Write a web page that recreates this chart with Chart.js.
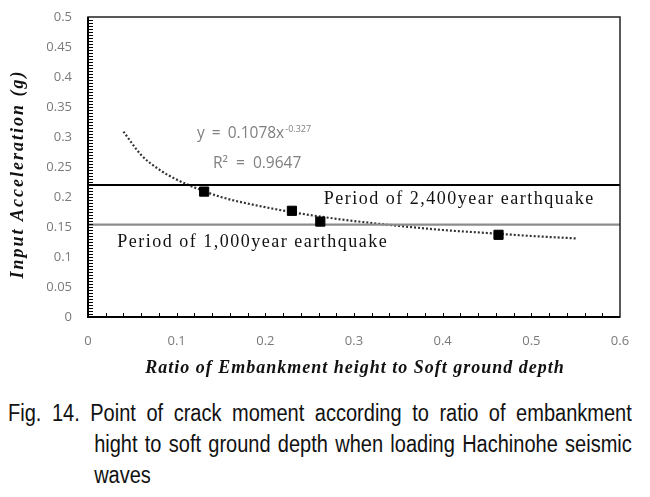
<!DOCTYPE html>
<html>
<head>
<meta charset="utf-8">
<script src="https://cdn.jsdelivr.net/npm/chart.js@4"></script>
<style>
  body{margin:0;background:#fff;}
  #wrap{position:relative;width:650px;height:497px;}
  #chart{position:absolute;left:0;top:0;}
  #caption{position:absolute;left:8px;top:398px;width:717px;transform:scaleX(0.87);transform-origin:0 0;
    font-family:"Liberation Sans",sans-serif;font-size:23px;line-height:31px;color:#111;}
  #caption div{text-align:justify;text-align-last:justify;white-space:nowrap;}
  #caption .ind{padding-left:99px;}
  #caption .last{text-align-last:left;}
</style>
</head>
<body>
<div id="wrap">
  <canvas id="chart" width="650" height="385"></canvas>
  <div id="caption">
    <div>Fig. 14. Point of crack moment according to ratio of embankment</div>
    <div class="ind">hight to soft ground depth when loading Hachinohe seismic</div>
    <div class="ind last">waves</div>
  </div>
</div>
<script>
// -------- data --------
const crackRatio = [0.131, 0.230, 0.262, 0.463];
const crackAccel = [0.209, 0.177, 0.159, 0.137];

// power trendline (dotted)
const trendRatio = [0.04, 0.06, 0.08, 0.10, 0.12, 0.15, 0.20, 0.25, 0.30, 0.35, 0.40, 0.45, 0.50, 0.55];
const trendAccel = [0.309, 0.270, 0.246, 0.229, 0.216, 0.200, 0.183, 0.170, 0.160, 0.152, 0.145, 0.140, 0.135, 0.131];

const levelNames = ['Period of 2,400year earthquake', 'Period of 1,000year earthquake'];
const levelAccel = [0.22, 0.154];
const levelSpan = [0, 0.6];

const xTickValues = [0, 0.1, 0.2, 0.3, 0.4, 0.5, 0.6];
const yTickValues = [0, 0.05, 0.1, 0.15, 0.2, 0.25, 0.3, 0.35, 0.4, 0.45, 0.5];

const TICK_GRAY = '#7a7a7a';

// --------- frame, inner ticks, titles, notes ---------
const decor = {
  id: 'decor',
  afterDraw(chart){
    const {ctx, chartArea:a, scales:{x, y}} = chart;
    ctx.save();
    // minor ticks inside the plot
    ctx.strokeStyle = '#000'; ctx.lineWidth = 1;
    ctx.beginPath();
    for(let i=1;i<30;i++){
      const px = Math.round(x.getPixelForValue(i*0.02)) + 0.5;
      ctx.moveTo(px, a.bottom); ctx.lineTo(px, a.bottom - 4);
    }
    for(let i=1;i<100;i++){
      const py = Math.round(y.getPixelForValue(i*0.005)) + 0.5;
      ctx.moveTo(a.left, py); ctx.lineTo(a.left + 5, py);
    }
    ctx.stroke();
    // frame
    ctx.lineWidth = 1.5; ctx.strokeStyle = '#222';
    ctx.strokeRect(a.left, a.top, a.right - a.left, a.bottom - a.top);
    ctx.lineWidth = 2; ctx.strokeStyle = '#000';
    ctx.beginPath();
    ctx.moveTo(a.left, a.top); ctx.lineTo(a.left, a.bottom); ctx.lineTo(a.right, a.bottom);
    ctx.stroke();

    // axis titles
    ctx.fillStyle = '#111';
    ctx.font = 'italic bold 18px "Liberation Serif", serif';
    ctx.textAlign = 'center'; ctx.textBaseline = 'middle';
    ctx.letterSpacing = '1px';
    ctx.fillText('Ratio of Embankment height to Soft ground depth', 355, 368);
    ctx.save();
    ctx.letterSpacing = '2px';
    ctx.translate(18, 174); ctx.rotate(-Math.PI/2);
    ctx.fillText('Input Acceleration (g)', 0, 0);
    ctx.restore();

    // level labels
    ctx.font = '18px "Liberation Serif", serif';
    ctx.textAlign = 'left';
    ctx.letterSpacing = '1.5px';
    ctx.fillText(levelNames[0], x.getPixelForValue(0.266), y.getPixelForValue(0.197));
    ctx.fillText(levelNames[1], x.getPixelForValue(0.033), y.getPixelForValue(0.124));

    // trendline equation
    ctx.letterSpacing = '0px';
    ctx.wordSpacing = '3px';
    ctx.fillStyle = '#808080';
    ctx.font = '15.5px "Open Sans", sans-serif';
    const ex = x.getPixelForValue(0.123), ey = y.getPixelForValue(0.305);
    const base = 'y = 0.1078x';
    ctx.fillText(base, ex, ey);
    const w = ctx.measureText(base).width;
    ctx.font = '9px "Open Sans", sans-serif';
    ctx.fillText('-0.327', ex + w + 1, ey - 5);
    ctx.font = '15.5px "Open Sans", sans-serif';
    ctx.wordSpacing = '4px';
    ctx.fillText('R\u00B2 = 0.9647', x.getPixelForValue(0.141), y.getPixelForValue(0.255));
    ctx.restore();
  }
};

new Chart(document.getElementById('chart'), {
  type: 'scatter',
  data: {
    datasets: [
      {
        label: 'Crack moment',
        data: crackRatio.map((v,i)=>({x:v, y:crackAccel[i]})),
        pointStyle: 'rect', pointRadius: 6.5, backgroundColor: '#000', borderColor: '#000',
        showLine: false, order: 0
      },
      {
        label: 'Power trend',
        data: trendRatio.map((v,i)=>({x:v, y:trendAccel[i]})),
        showLine: true, pointRadius: 0, borderColor: '#333', borderWidth: 2.2,
        borderDash: [2, 2], tension: 0.4, cubicInterpolationMode: 'monotone', order: 2
      },
      {
        label: levelNames[0],
        data: levelSpan.map(v=>({x:v, y:levelAccel[0]})),
        showLine: true, pointRadius: 0, borderColor: '#000', borderWidth: 2.2, order: 1
      },
      {
        label: levelNames[1],
        data: levelSpan.map(v=>({x:v, y:levelAccel[1]})),
        showLine: true, pointRadius: 0, borderColor: '#8c8c8c', borderWidth: 2.2, order: 1
      }
    ]
  },
  options: {
    responsive: false,
    animation: false,
    layout: { padding: { top: 17, right: 30, left: 0, bottom: 0 } },
    plugins: { legend: { display: false }, tooltip: { enabled: false } },
    scales: {
      x: {
        type: 'linear', min: 0, max: 0.6,
        afterBuildTicks: s => { s.ticks = xTickValues.map(v=>({value:v})); },
        afterFit: s => { s.height = 68; s.paddingLeft = 0; s.paddingRight = 0; },
        grid: { display: false, drawTicks: false },
        border: { display: false },
        ticks: { padding: 16, color: TICK_GRAY, font: { family: '"Open Sans", sans-serif', size: 13 },
          callback: v => String(+v.toFixed(2)) }
      },
      y: {
        type: 'linear', min: 0, max: 0.5,
        afterBuildTicks: s => { s.ticks = yTickValues.map(v=>({value:v})); },
        afterFit: s => { s.width = 88; s.paddingTop = 0; s.paddingBottom = 0; },
        grid: { display: false, drawTicks: false },
        border: { display: false },
        ticks: { padding: 16, color: TICK_GRAY, font: { family: '"Open Sans", sans-serif', size: 13 },
          callback: v => String(+v.toFixed(2)) }
      }
    }
  },
  plugins: [decor]
});
</script>
</body>
</html>
